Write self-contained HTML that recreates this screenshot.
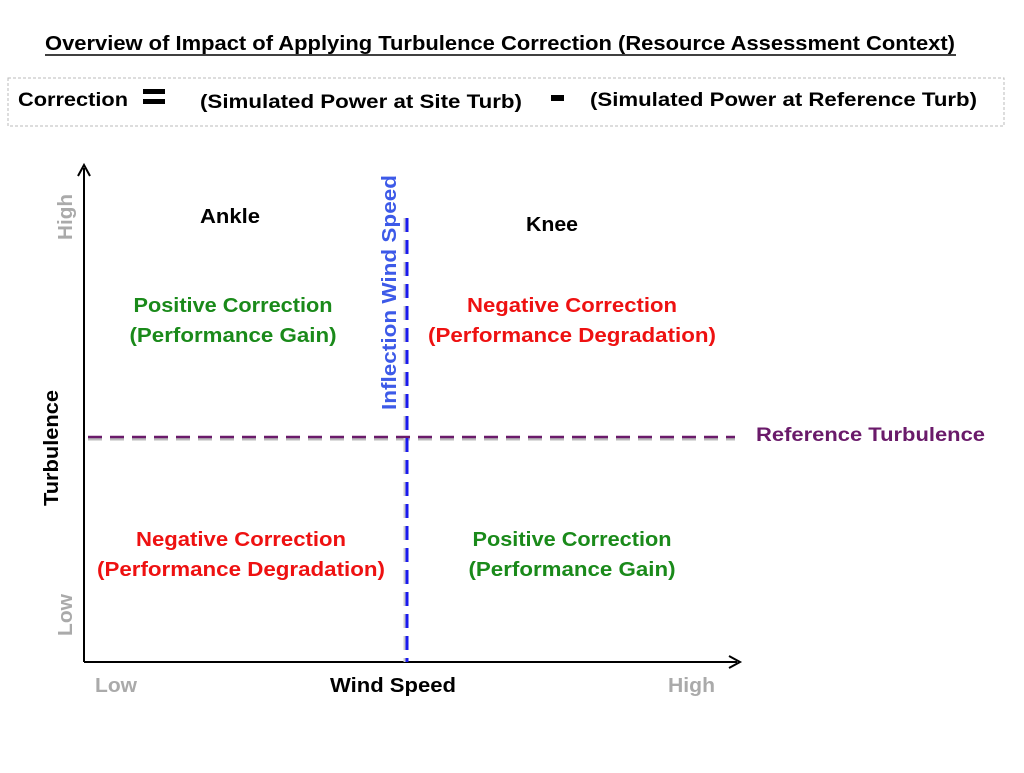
<!DOCTYPE html>
<html><head><meta charset="utf-8"><style>
body{margin:0;background:#fff;}
svg text{font-family:"Liberation Sans",sans-serif;font-weight:bold;}
</style></head><body>
<svg width="1024" height="768" viewBox="0 0 1024 768">
<text x="500" y="50" font-size="20" text-anchor="middle" textLength="910" lengthAdjust="spacingAndGlyphs">Overview of Impact of Applying Turbulence Correction (Resource Assessment Context)</text>
<line x1="45" y1="55" x2="956" y2="55" stroke="#000" stroke-width="1.5"/>
<rect x="8" y="78" width="996" height="48" fill="none" stroke="#bbb" stroke-dasharray="3,2"/>
<text x="18" y="106" font-size="19" textLength="110" lengthAdjust="spacingAndGlyphs">Correction</text>
<rect x="143" y="89" width="22" height="5" fill="#000"/>
<rect x="143" y="99" width="22" height="5" fill="#000"/>
<text x="200" y="108" font-size="19" textLength="322" lengthAdjust="spacingAndGlyphs">(Simulated Power at Site Turb)</text>
<rect x="551" y="95" width="13" height="6" fill="#000"/>
<text x="590" y="106" font-size="19" textLength="387" lengthAdjust="spacingAndGlyphs">(Simulated Power at Reference Turb)</text>
<line x1="84" y1="662" x2="84" y2="168" stroke="#000" stroke-width="2"/>
<path d="M78 176 L84 165 L90 176" fill="none" stroke="#000" stroke-width="2"/>
<line x1="84" y1="662" x2="737" y2="662" stroke="#000" stroke-width="2"/>
<path d="M729 656 L740 662 L729 668" fill="none" stroke="#000" stroke-width="2"/>
<line x1="88" y1="439" x2="735" y2="439" stroke="#bbb" stroke-width="3" stroke-dasharray="14,8"/>
<line x1="88" y1="437" x2="735" y2="437" stroke="#6a1a6a" stroke-width="2.5" stroke-dasharray="14,8"/>
<line x1="405" y1="218" x2="405" y2="662" stroke="#ccc" stroke-width="3" stroke-dasharray="14,8"/>
<line x1="407" y1="218" x2="407" y2="662" stroke="#1a1aee" stroke-width="3" stroke-dasharray="14,8"/>
<text transform="translate(396,410) rotate(-90)" font-size="20" fill="#3d5ae8" textLength="235" lengthAdjust="spacingAndGlyphs">Inflection Wind Speed</text>
<text x="756" y="441" font-size="19" fill="#6a1a6a" textLength="229" lengthAdjust="spacingAndGlyphs">Reference Turbulence</text>
<text x="200" y="223" font-size="20" textLength="60" lengthAdjust="spacingAndGlyphs">Ankle</text>
<text x="526" y="231" font-size="20" textLength="52" lengthAdjust="spacingAndGlyphs">Knee</text>
<g font-size="20" text-anchor="middle">
<text x="233" y="312" fill="#1a8a1a" textLength="199" lengthAdjust="spacingAndGlyphs">Positive Correction</text>
<text x="233" y="342" fill="#1a8a1a" textLength="207" lengthAdjust="spacingAndGlyphs">(Performance Gain)</text>
<text x="572" y="312" fill="#ee1111" textLength="210" lengthAdjust="spacingAndGlyphs">Negative Correction</text>
<text x="572" y="342" fill="#ee1111" textLength="288" lengthAdjust="spacingAndGlyphs">(Performance Degradation)</text>
<text x="241" y="546" fill="#ee1111" textLength="210" lengthAdjust="spacingAndGlyphs">Negative Correction</text>
<text x="241" y="576" fill="#ee1111" textLength="288" lengthAdjust="spacingAndGlyphs">(Performance Degradation)</text>
<text x="572" y="546" fill="#1a8a1a" textLength="199" lengthAdjust="spacingAndGlyphs">Positive Correction</text>
<text x="572" y="576" fill="#1a8a1a" textLength="207" lengthAdjust="spacingAndGlyphs">(Performance Gain)</text>
</g>
<text transform="translate(58,506) rotate(-90)" font-size="20" textLength="116" lengthAdjust="spacingAndGlyphs">Turbulence</text>
<text transform="translate(72,240) rotate(-90)" font-size="20" fill="#aaa" textLength="46" lengthAdjust="spacingAndGlyphs">High</text>
<text transform="translate(72,636) rotate(-90)" font-size="20" fill="#aaa" textLength="42" lengthAdjust="spacingAndGlyphs">Low</text>
<text x="330" y="692" font-size="20" textLength="126" lengthAdjust="spacingAndGlyphs">Wind Speed</text>
<text x="95" y="692" font-size="20" fill="#aaa" textLength="42" lengthAdjust="spacingAndGlyphs">Low</text>
<text x="668" y="692" font-size="20" fill="#aaa" textLength="47" lengthAdjust="spacingAndGlyphs">High</text>
</svg>
</body></html>
